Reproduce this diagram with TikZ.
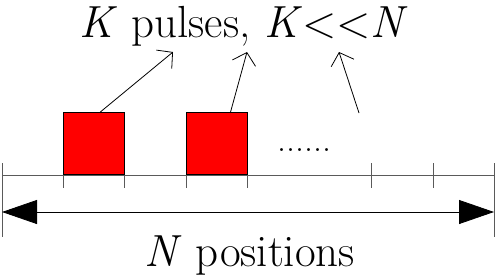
\documentclass[tikz,border=0pt]{standalone}
\usepackage{tikz}
\usetikzlibrary{arrows.meta,positioning,calc}
\definecolor{pulsered}{RGB}{255,0,0}
\definecolor{axisgray}{RGB}{90,90,90}

\begin{document}
\begin{tikzpicture}[x=1pt,y=-1pt,
    pulse/.style={draw=black, fill=pulsered, line width=0.8pt, minimum width=61pt, minimum height=62pt, inner sep=0pt, anchor=south west},
    tick/.style={draw=axisgray, line width=1pt},
    pointer/.style={-{Straight Barb[length=11pt,width=24pt]}, line width=0.8pt},
    span/.style={{Triangle[length=35pt,width=24pt]}-{Triangle[length=35pt,width=24pt]}, line width=0.8pt},
    big/.style={font=\fontsize{45}{48}\selectfont, inner sep=0pt}]
    \useasboundingbox (0,0) rectangle (496,279);
    \draw[tick] (2,175) -- (494,175);
    \foreach \x in {63,124,186,247} \draw[tick] (\x,175) -- (\x,188);
    \foreach \x in {371,433} \draw[tick] (\x,163) -- (\x,188);
    \foreach \x in {2,494} \draw[tick] (\x,163) -- (\x,237);
    \node[pulse] (p1) at (63,175) {};
    \node[pulse] (p2) at (186,175) {};
    \node[font=\fontsize{36}{36}\selectfont, inner sep=0pt, anchor=base west] (dots) at (277,151) {......};
    \node[big, anchor=base] (title) at (244,37) {\textit{K} pulses, \textit{K}<\kern0pt<\textit{N}};
    \coordinate (t1) at (173,52);
    \coordinate (t2) at (247,52);
    \coordinate (t3) at (339,52);
    \coordinate (p3) at (359,113);
    \draw[pointer] ($(p1.north west)!0.6!(p1.north east)$) -- (t1);
    \draw[pointer] ($(p2.north west)!0.72!(p2.north east)$) -- (t2);
    \draw[pointer] (p3) -- (t3);
    \coordinate (lend) at (2,212);
    \coordinate (rend) at (494,212);
    \draw[span] (lend) -- (rend);
    \node[big, anchor=base] (npos) at (250,266) {\textit{N} positions};
\end{tikzpicture}
\end{document}
